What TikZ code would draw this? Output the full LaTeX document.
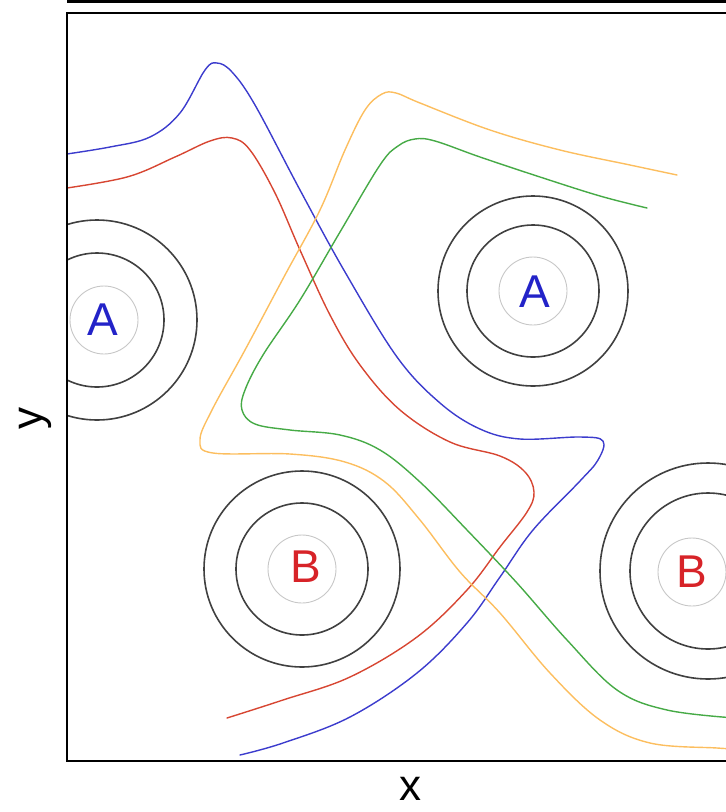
\documentclass[tikz,border=0pt]{standalone}
\usepackage{fontspec}
\setmainfont{Liberation Sans}
\definecolor{pathblue}{RGB}{60,60,205}
\definecolor{pathred}{RGB}{215,70,50}
\definecolor{pathorange}{RGB}{252,190,95}
\definecolor{pathgreen}{RGB}{70,170,70}
\definecolor{labA}{RGB}{35,35,200}
\definecolor{labB}{RGB}{215,35,40}
\begin{document}
\begin{tikzpicture}
  [x=1pt,y=-1pt,
   ring/.style={draw=black!75,line width=1.6pt},
   core/.style={draw=black!22,line width=0.9pt},
   traj/.style={line width=1.4pt,line cap=round,line join=round},
   lbl/.style={font=\fontsize{46}{50}\selectfont,inner sep=0pt},
   axlbl/.style={font=\fontsize{44}{48}\selectfont,inner sep=0pt}]
  \useasboundingbox (0,0) rectangle (726,812);

  % centres of the rings
  \coordinate (cA1) at (97,320);
  \coordinate (cA2) at (533,291);
  \coordinate (cB1) at (302,569);
  \coordinate (cB2) at (708,571);

  \begin{scope}
    \clip (67,13) rectangle (726,761);
    \foreach \c/\ri/\ro in {cA1/67/100, cA2/66/95, cB1/66/98, cB2/78/108}
    {
      \draw[ring] (\c) circle[radius=\ri pt];
      \draw[ring] (\c) circle[radius=\ro pt];
    }
    \foreach \p in {(104,320), (533,291), (302,569), (692,572)}
      \draw[core] \p circle[radius=34pt];

    \draw[traj,pathblue] plot[smooth,tension=0.6] coordinates {(60,155) (110,147) (150,137) (180,113) (205,70) (217,63) (232,72) (255,105) (300,190) (345,272) (397,357) (440,403) (480,429) (520,439) (580,437) (603,441) (598,460) (580,481) (533,530) (500,577) (467,623) (417,673) (350,717) (283,743) (240,755)};
    \draw[traj,pathred] plot[smooth,tension=0.6] coordinates {(60,189) (127,177) (175,157) (210,141) (232,138) (250,150) (275,193) (300,250) (330,315) (360,365) (400,410) (450,442) (500,456) (525,472) (534,492) (527,512) (500,547) (467,590) (417,637) (350,677) (283,700) (227,718)};
    \draw[traj,pathorange] plot[smooth,tension=0.6] coordinates {(677,175) (630,165) (560,150) (490,130) (420,103) (396,93) (382,94) (365,110) (345,150) (320,210) (285,275) (245,350) (212,410) (200,440) (213,453) (290,454) (345,462) (385,482) (420,520) (460,572) (500,613) (550,673) (600,720) (650,743) (717,748) (735,749)};
    \draw[traj,pathgreen] plot[smooth,tension=0.6] coordinates {(647,208) (600,196) (540,177) (480,157) (435,141) (415,139) (398,146) (380,165) (340,232) (300,300) (263,355) (245,390) (242,410) (255,424) (290,430) (340,435) (380,450) (420,482) (467,530) (517,583) (567,640) (617,690) (667,710) (735,718)};

    \node[lbl,text=labA] (A1) at (103,320) {A};
    \node[lbl,text=labA] (A2) at (535,292) {A};
    \node[lbl,text=labB] (B1) at (306,567) {B};
    \node[lbl,text=labB] (B2) at (692,572) {B};
  \end{scope}

  % frame of the plot
  \draw[line width=2.8pt,line join=miter] (726,13) -- (67,13) -- (67,761) -- (726,761);
  \draw[line width=3pt] (67,1.5) -- (726,1.5);

  \node[axlbl] (xlab) at (410,789) {x};
  \node[axlbl,rotate=90] (ylab) at (35,418) {y};
\end{tikzpicture}
\end{document}
